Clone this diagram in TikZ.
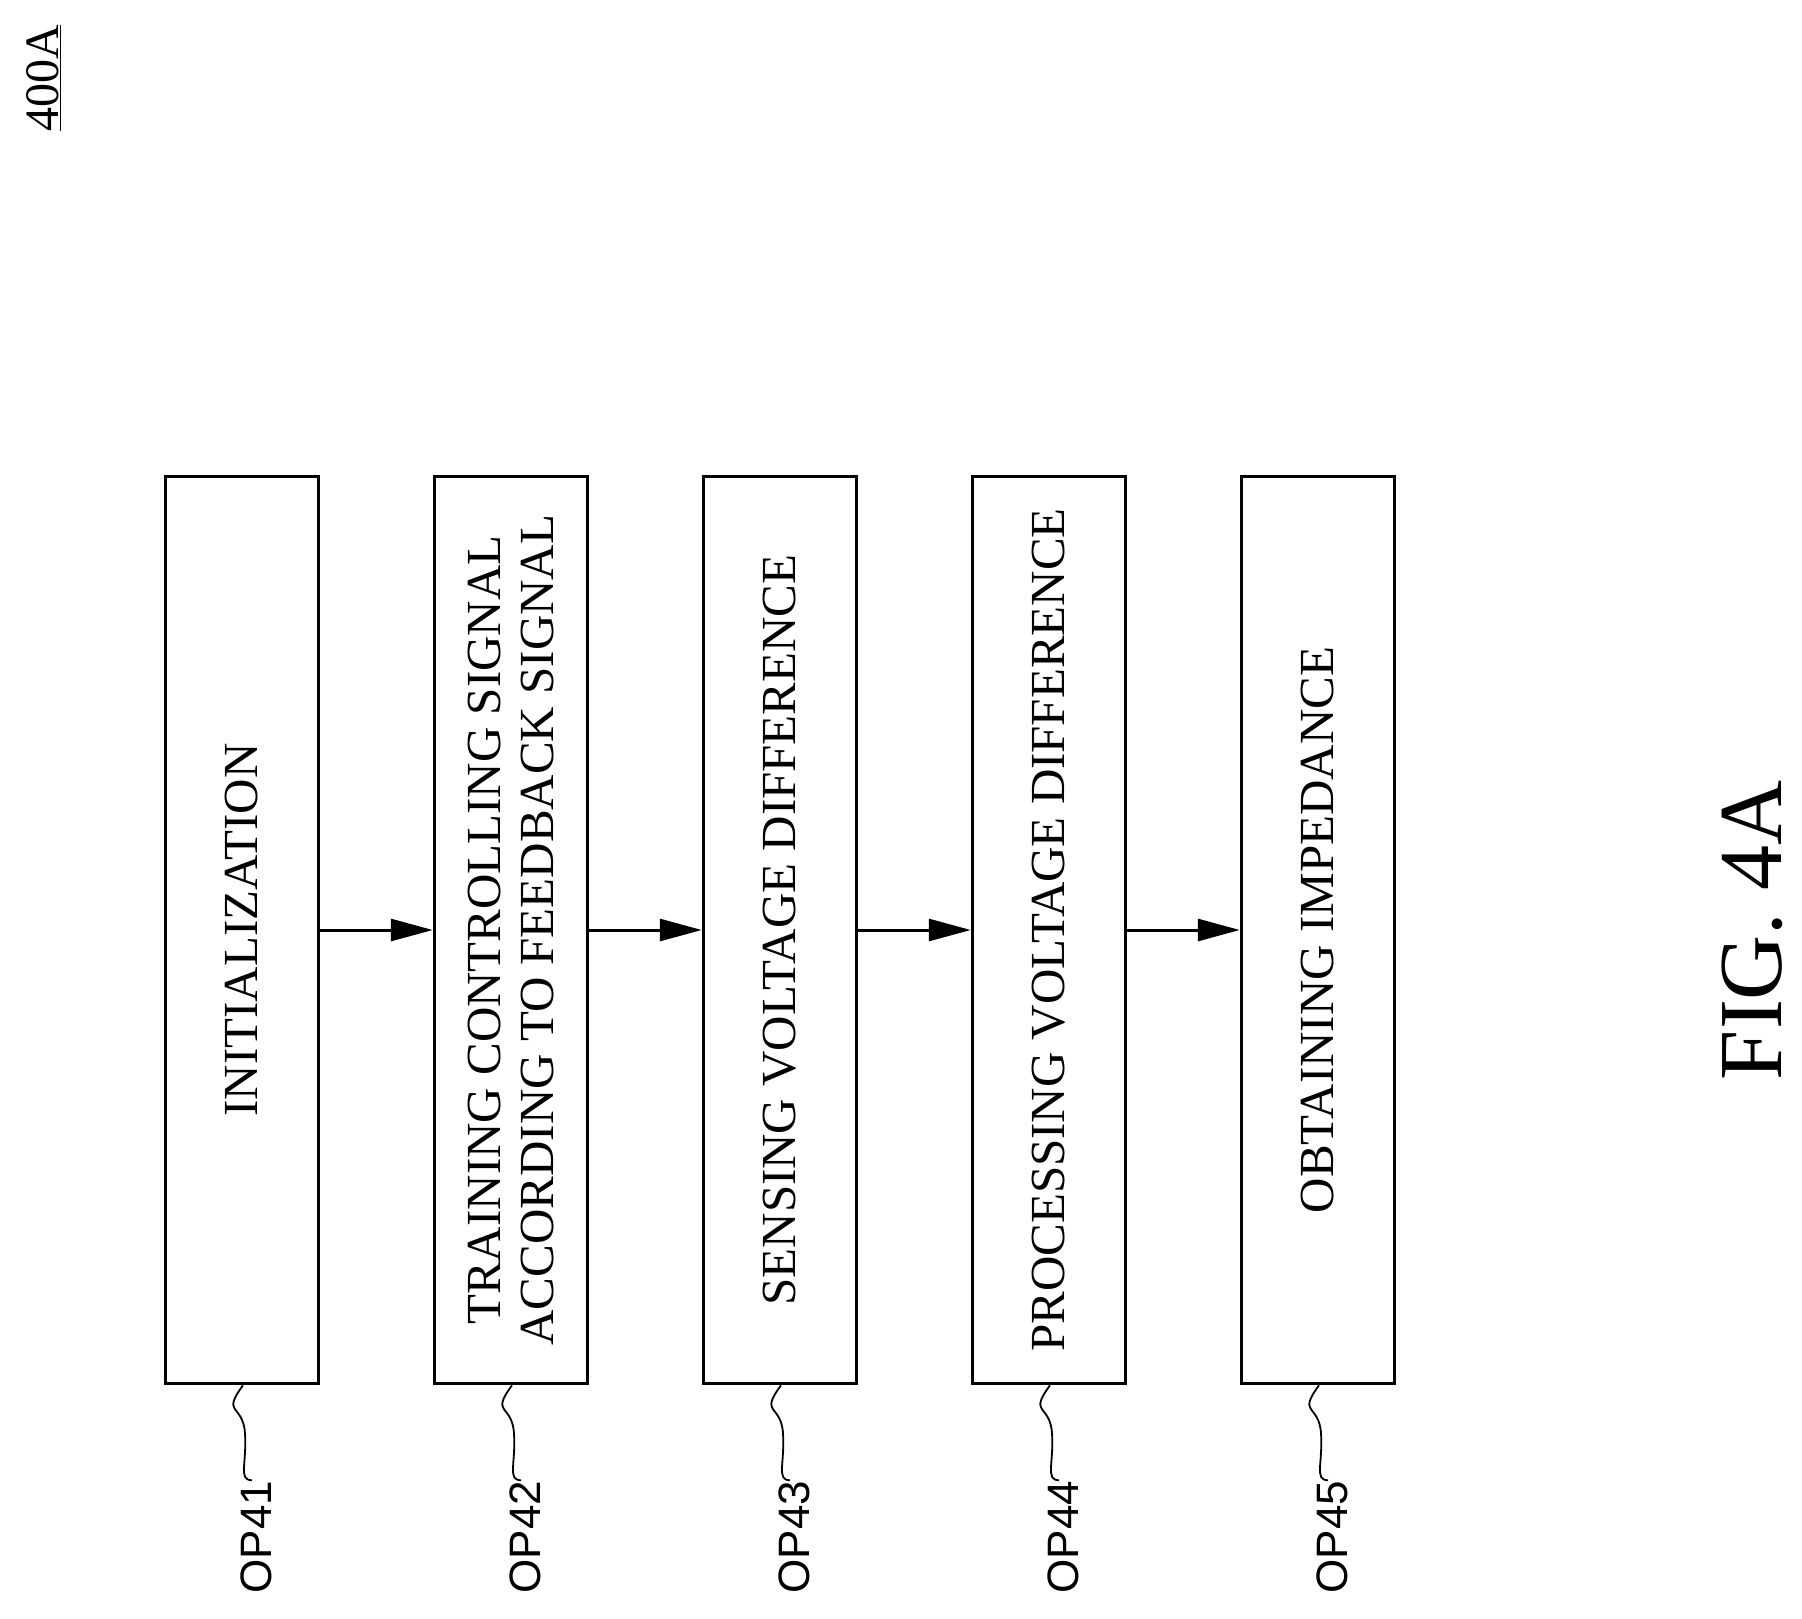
\documentclass[tikz,border=0pt]{standalone}
\usepackage{fontspec}
\setmainfont{Liberation Serif}
\newfontfamily\lab{Liberation Sans}
\usetikzlibrary{arrows.meta}
\begin{document}
\begin{tikzpicture}[x=1pt,y=-1pt,
  stepbox/.style={draw,line width=3.5pt,minimum width=153pt,minimum height=907pt,inner sep=0pt},
  steptext/.style={rotate=90,font=\fontsize{49}{53}\selectfont,align=center},
  arr/.style={line width=3pt,-{Triangle[length=42pt,width=22pt]}},
  oplab/.style={rotate=90,font=\lab\fontsize{44}{48}\selectfont,anchor=east}]
\useasboundingbox (0,0) rectangle (1802,1619);
\node[stepbox] (b1) at (242,930) {};
\node[steptext] at (b1) {INITIALIZATION};
\node[stepbox] (b2) at (511,930) {};
\node[steptext] at (b2) {TRAINING CONTROLLING SIGNAL\\ACCORDING TO FEEDBACK SIGNAL};
\node[stepbox] (b3) at (780,930) {};
\node[steptext] at (b3) {SENSING VOLTAGE DIFFERENCE};
\node[stepbox] (b4) at (1049,930) {};
\node[steptext] at (b4) {PROCESSING VOLTAGE DIFFERENCE};
\node[stepbox] (b5) at (1318,930) {};
\node[steptext] at (b5) {OBTAINING IMPEDANCE};
\foreach \a/\b in {b1/b2,b2/b3,b3/b4,b4/b5}{\draw[arr] (\a.east) -- (\b.west);}
\foreach \b/\t in {b1/OP41,b2/OP42,b3/OP43,b4/OP44,b5/OP45}{
  \node[oplab] (\t) at ([xshift=14pt,yshift=-92pt]\b.south) {\t};
  \draw[line width=1.8pt] ([xshift=1pt]\b.south) .. controls +(-22,30) and +(-2,-30) .. ([xshift=3pt,yshift=-48pt]\b.south) .. controls +(2,30) and +(-14,0) .. ([xshift=-4pt,yshift=-3pt]\t.east);
}
\node[rotate=90,font=\fontsize{48}{52}\selectfont,anchor=center] (t400) at (44,78) {\underline{400A}};
\node[rotate=90,font=\fontsize{90}{94}\selectfont] (fig) at (1752,930) {FIG. 4A};
\end{tikzpicture}
\end{document}
